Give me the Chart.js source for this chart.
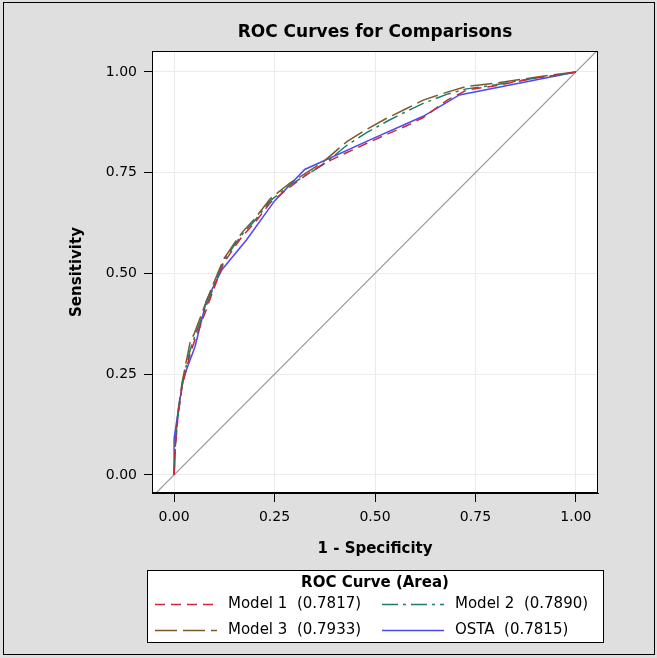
<!DOCTYPE html>
<html>
<head>
<meta charset="utf-8">
<script src="https://cdn.jsdelivr.net/npm/chart.js@4/dist/chart.umd.min.js"></script>
<style>
  body { margin: 0; background: #dfdfdf; }
  canvas { display: block; }
</style>
</head>
<body>
<canvas id="rocChart" width="657" height="658"></canvas>
<script>
// ROC curve data (1 - specificity, sensitivity)
var modelX = [0, 0.003, 0.01, 0.02, 0.03, 0.04, 0.05, 0.065, 0.08, 0.1, 0.123, 0.15, 0.172, 0.2, 0.239,
              0.289, 0.33, 0.371, 0.43, 0.48, 0.529, 0.58, 0.62, 0.68, 0.728, 0.8, 0.852, 0.9, 0.96, 1];
var model1Y = [0, 0.07, 0.15, 0.22, 0.26, 0.3, 0.33, 0.37, 0.41, 0.465, 0.525, 0.565, 0.595, 0.625, 0.675,
               0.715, 0.745, 0.772, 0.8, 0.823, 0.845, 0.867, 0.887, 0.93, 0.955, 0.966, 0.976, 0.985, 0.993, 1];
var model2Y = [0, 0.07, 0.15, 0.22, 0.27, 0.31, 0.34, 0.38, 0.42, 0.47, 0.53, 0.57, 0.6, 0.63, 0.68,
               0.72, 0.745, 0.77, 0.818, 0.85, 0.877, 0.903, 0.922, 0.945, 0.958, 0.968, 0.977, 0.985, 0.993, 1];
var model3Y = [0, 0.08, 0.16, 0.23, 0.28, 0.33, 0.35, 0.39, 0.43, 0.48, 0.535, 0.575, 0.605, 0.635, 0.685,
               0.725, 0.75, 0.777, 0.827, 0.858, 0.885, 0.91, 0.93, 0.95, 0.964, 0.972, 0.98, 0.987, 0.995, 1];
var ostaX = [0, 0, 0.015, 0.023, 0.052, 0.081, 0.119, 0.18, 0.25, 0.325, 0.5, 0.62, 0.71, 1];
var ostaY = [0, 0.09, 0.19, 0.24, 0.318, 0.434, 0.509, 0.583, 0.68, 0.758, 0.837, 0.89, 0.943, 1];
var refLine = [-0.1, 1.1];

var seriesLabels = ["Model 1  (0.7817)", "Model 2  (0.7890)", "Model 3  (0.7933)", "OSTA  (0.7815)"];
var axisTicks = [0, 0.25, 0.5, 0.75, 1];

function pts(xs, ys) {
  return xs.map(function (x, i) { return { x: x, y: ys[i] }; });
}

var tickFont = { family: "DejaVu Sans", size: 14 };

// background, frame, titles and the boxed legend
var decor = {
  id: "decor",
  beforeDraw: function (chart) {
    var c = chart.ctx, a = chart.chartArea;
    c.save();
    c.fillStyle = "#dfdfdf";
    c.fillRect(0, 0, chart.width, chart.height);
    c.strokeStyle = "#000";
    c.lineWidth = 1;
    c.strokeRect(3.5, 2.5, 651, 652);
    c.fillStyle = "#fff";
    c.fillRect(a.left, a.top, a.right - a.left, a.bottom - a.top);
    c.restore();
  },
  afterDraw: function (chart) {
    var c = chart.ctx, a = chart.chartArea;
    c.save();
    c.strokeStyle = "#000";
    c.lineWidth = 1;
    c.strokeRect(a.left + 0.5, a.top + 0.5, a.right - a.left - 1, a.bottom - a.top - 1);

    c.fillStyle = "#000";
    c.textAlign = "center";
    c.textBaseline = "middle";
    var cx = (a.left + a.right) / 2;
    c.font = "bold 17px 'DejaVu Sans'";
    c.fillText("ROC Curves for Comparisons", cx, 33);
    c.font = "bold 15px 'DejaVu Sans'";
    c.fillText("1 - Specificity", cx, 549);
    c.save();
    c.translate(77, (a.top + a.bottom) / 2);
    c.rotate(-Math.PI / 2);
    c.fillText("Sensitivity", 0, 0);
    c.restore();

    // legend box
    c.fillStyle = "#fff";
    c.fillRect(147, 570, 456, 72);
    c.strokeRect(147.5, 570.5, 456, 72);
    c.fillStyle = "#000";
    c.font = "bold 15px 'DejaVu Sans'";
    c.fillText("ROC Curve (Area)", cx, 583);
    c.font = "15px 'DejaVu Sans'";
    c.textAlign = "left";
    var slots = [[155, 604], [382, 604], [155, 630], [382, 630]];
    for (var i = 0; i < 4; i++) {
      var ds = chart.data.datasets[i];
      var s = slots[i];
      c.save();
      c.strokeStyle = ds.borderColor;
      c.lineWidth = ds.borderWidth;
      c.setLineDash(ds.borderDash || []);
      c.beginPath();
      c.moveTo(s[0], s[1] + 0.5);
      c.lineTo(s[0] + 62, s[1] + 0.5);
      c.stroke();
      c.restore();
      c.fillText(ds.label, s[0] + 73, s[1]);
    }
    c.restore();
  }
};

var lineDefaults = { pointRadius: 0, borderWidth: 1.5, tension: 0, fill: false };

new Chart(document.getElementById("rocChart").getContext("2d"), {
  type: "line",
  data: {
    datasets: [
      Object.assign({ label: seriesLabels[0], data: pts(modelX, model1Y), borderColor: "#c8283e", borderDash: [10, 6] }, lineDefaults),
      Object.assign({ label: seriesLabels[1], data: pts(modelX, model2Y), borderColor: "#1e7b6b", borderDash: [16, 5, 3, 5] }, lineDefaults),
      Object.assign({ label: seriesLabels[2], data: pts(modelX, model3Y), borderColor: "#7a5a2c", borderDash: [22, 6] }, lineDefaults),
      Object.assign({ label: seriesLabels[3], data: pts(ostaX, ostaY), borderColor: "#4a4af5" }, lineDefaults),
      Object.assign({ label: "ref", data: pts(refLine, refLine), borderColor: "#9a9a9a" }, lineDefaults, { borderWidth: 1.2 })
    ]
  },
  options: {
    responsive: false,
    animation: false,
    layout: { padding: { left: 4, top: 51, right: 59, bottom: 85 } },
    plugins: { legend: { display: false }, tooltip: { enabled: false } },
    scales: {
      x: {
        type: "linear",
        min: -0.055,
        max: 1.055,
        afterBuildTicks: function (s) { s.ticks = axisTicks.map(function (v) { return { value: v }; }); },
        afterFit: function (s) { s.height = 80; },
        ticks: { font: tickFont, color: "#000", padding: 7, maxRotation: 0, autoSkip: false,
                 callback: function (v) { return Number(v).toFixed(2); } },
        grid: { color: "#ebebeb", tickColor: "#000", tickLength: 9 },
        border: { color: "#000" }
      },
      y: {
        type: "linear",
        min: -0.045,
        max: 1.052,
        afterBuildTicks: function (s) { s.ticks = axisTicks.map(function (v) { return { value: v }; }); },
        afterFit: function (s) { s.width = 148; },
        ticks: { font: tickFont, color: "#000", padding: 7, autoSkip: false,
                 callback: function (v) { return Number(v).toFixed(2); } },
        grid: { color: "#ebebeb", tickColor: "#000", tickLength: 8 },
        border: { color: "#000" }
      }
    }
  },
  plugins: [decor]
});
</script>
</body>
</html>
